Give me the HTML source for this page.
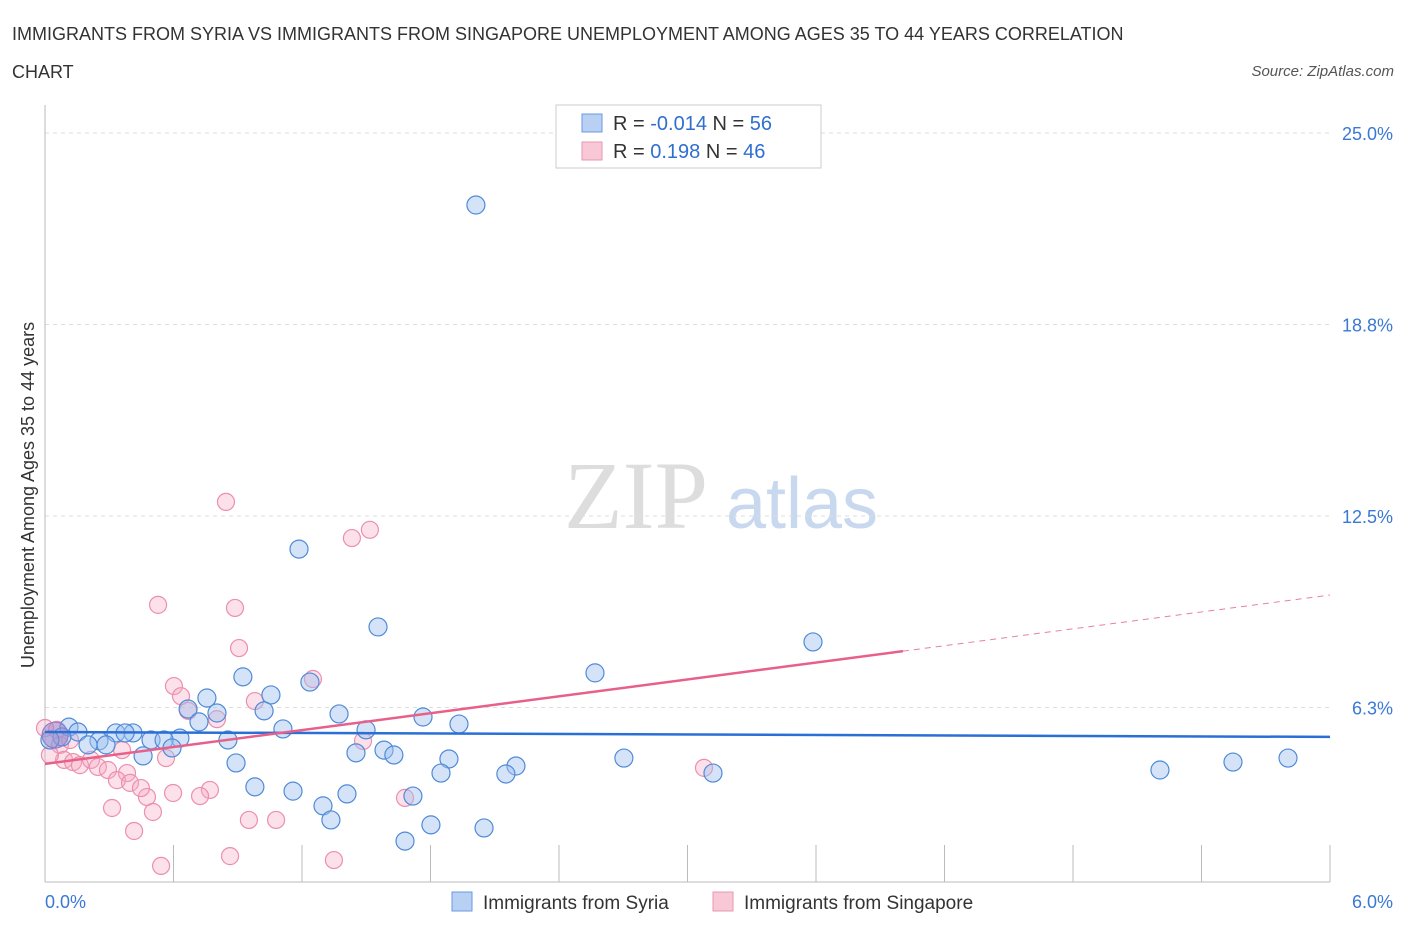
<!DOCTYPE html>
<html><head><meta charset="utf-8"><style>
body{margin:0;background:#fff;font-family:"Liberation Sans",sans-serif;}
</style></head><body>
<svg width="1406" height="930" xmlns="http://www.w3.org/2000/svg" font-family="Liberation Sans, sans-serif" id="chart">
<text x="12" y="40" font-size="18" fill="#333">IMMIGRANTS FROM SYRIA VS IMMIGRANTS FROM SINGAPORE UNEMPLOYMENT AMONG AGES 35 TO 44 YEARS CORRELATION</text>
<text x="12" y="78" font-size="18" fill="#333">CHART</text>
<text x="1394" y="76" font-size="15" fill="#555" font-style="italic" text-anchor="end">Source: ZipAtlas.com</text>
<text x="636" y="528" font-size="96" fill="#ddd" font-family="Liberation Serif, serif" text-anchor="middle">ZIP</text>
<text x="802" y="528" font-size="72" fill="#c8d8ee" text-anchor="middle">atlas</text>
<text transform="translate(34,495) rotate(-90)" font-size="18" fill="#333" text-anchor="middle">Unemployment Among Ages 35 to 44 years</text>
<g id="grid"></g><g id="marks"></g>
<rect x="556" y="105" width="265" height="63" fill="#fff" stroke="#ccc"/>
<rect x="582" y="114" width="20" height="18" fill="#b8d0f4" stroke="#6a9ae0"/>
<rect x="582" y="142" width="20" height="18" fill="#f8c8d6" stroke="#e898b0"/>
<text x="613" y="130" font-size="20" fill="#333">R = <tspan fill="#2f6fd0">-0.014</tspan>   N = <tspan fill="#2f6fd0">56</tspan></text>
<text x="613" y="158" font-size="20" fill="#333">R =   <tspan fill="#2f6fd0">0.198</tspan>   N = <tspan fill="#2f6fd0">46</tspan></text>
<rect x="452" y="892" width="20" height="19" fill="#b8d0f4" stroke="#6a9ae0"/>
<text x="483" y="909" font-size="19" fill="#333">Immigrants from Syria</text>
<rect x="713" y="892" width="20" height="19" fill="#f8c8d6" stroke="#e898b0"/>
<text x="744" y="909" font-size="19" fill="#333">Immigrants from Singapore</text>
</svg>
<script>
const yTicks=[25,18.75,12.5,6.25];
const yTickLabels=["25.0%","18.8%","12.5%","6.3%"];
const xTickLabels=["0.0%","6.0%"];
const syriaX=[2.012,1.186,1.555,3.586,2.568,0.924,1.237,0.756,1.055,0.668,0.803,1.023,1.373,1.765,1.933,0.719,1.111,1.499,0.112,0.154,0.331,0.411,0.374,0.079,0.252,0.285,0.495,0.630,0.556,0.854,0.593,0.458,1.452,1.583,1.629,1.886,0.892,2.703,2.199,1.849,2.152,3.119,5.206,5.547,5.804,0.980,1.158,1.410,1.718,1.298,1.335,1.802,2.050,1.681,0.201,0.023];
const syriaY=[22.65,11.42,8.88,8.39,7.38,7.25,7.08,6.56,6.66,6.20,6.07,6.14,6.04,5.94,5.71,5.78,5.55,5.52,5.61,5.45,5.42,5.42,5.42,5.29,5.16,5.03,5.19,5.25,5.19,5.19,4.93,4.67,4.77,4.86,4.70,4.57,4.44,4.60,4.34,4.11,4.08,4.11,4.21,4.47,4.60,3.66,3.52,3.43,3.36,3.04,2.58,2.42,2.32,1.89,5.03,5.19];
const singX=[0.845,1.517,1.433,0.528,0.887,0.906,0.602,0.635,1.251,0.980,0.668,0.803,1.485,0.056,0,0.070,0.089,0.131,0.163,0.215,0.247,0.294,0.360,0.383,0.336,0.397,0.476,0.448,0.504,0.565,0.770,0.598,0.724,0.313,0.416,0.952,1.079,1.681,3.077,0.542,0.864,1.349,0.023,0.117];
const singY=[12.96,12.05,11.78,9.60,9.50,8.19,6.95,6.62,7.18,6.46,6.14,5.87,5.16,5.52,5.58,5.03,4.54,4.47,4.37,4.54,4.31,4.21,4.86,4.11,3.88,3.79,3.33,3.62,2.84,4.60,3.56,3.46,3.36,2.97,2.22,2.58,2.58,3.30,4.28,1.08,1.40,1.27,4.70,5.19];
const syriaTrend=[5.45,5.29];
const singTrend=[4.41,9.92];
const singSolidEnd=4.006;
const X=v=>45+v/6*1285, Y=v=>899-v*30.64;
const NS="http://www.w3.org/2000/svg";
const grid=document.getElementById('grid'), marks=document.getElementById('marks');
function mk(tag,attrs,parent){const e=document.createElementNS(NS,tag);for(const k in attrs)e.setAttribute(k,attrs[k]);parent.appendChild(e);return e;}
yTicks.forEach((t,i)=>{
 const l=mk('line',{x1:45,x2:1330,y1:Y(t),y2:Y(t),stroke:'#ddd','stroke-dasharray':'4,4'},grid);
 
 
 const tx=mk('text',{x:1393,y:Y(t)+7,'font-size':18,fill:'#3a78d4','text-anchor':'end'},grid);tx.textContent=yTickLabels[i];
 
 
});
const ax=mk('line',{x1:45,x2:1330,y1:882,y2:882,stroke:'#bbb'},grid);


const ay=mk('line',{x1:45,x2:45,y1:105,y2:882,stroke:'#bbb'},grid);


for(let i=1;i<=10;i++){const xx=45+i*1285/10;const t=mk('line',{x1:xx,x2:xx,y1:845,y2:882,stroke:'#bbb'},grid);
 
 }
[[0,45,'start'],[6,1393,'end']].forEach(([v,xx,a],i)=>{const t=mk('text',{x:xx,y:908,'font-size':18,fill:'#3a78d4','text-anchor':a},grid);t.textContent=xTickLabels[i];
 
 });
singX.forEach((x,i)=>{const c=mk('circle',{cx:X(x),cy:Y(singY[i]),r:8.5,fill:'rgba(245,170,195,0.35)',stroke:'#ec8fae','stroke-width':1.2},marks);
 
 });
syriaX.forEach((x,i)=>{const c=mk('circle',{cx:X(x),cy:Y(syriaY[i]),r:9,fill:'rgba(160,192,240,0.45)',stroke:'#4f8ad8','stroke-width':1.2},marks);
 
 });
const big=mk('circle',{cx:X(0.047),cy:Y(5.35),r:13,fill:'rgba(150,130,200,0.5)',stroke:'#8a7ac8'},marks);


const sy=s=>singTrend[0]+(singTrend[1]-singTrend[0])*s/6;
const t1=mk('line',{x1:X(0),y1:Y(syriaTrend[0]),x2:X(6),y2:Y(syriaTrend[1]),stroke:'#2a6fd6','stroke-width':2.5},marks);


const t2=mk('line',{x1:X(0),y1:Y(sy(0)),x2:X(singSolidEnd),y2:Y(sy(singSolidEnd)),stroke:'#e8608a','stroke-width':2.5},marks);


const t3=mk('line',{x1:X(singSolidEnd),y1:Y(sy(singSolidEnd)),x2:X(6),y2:Y(sy(6)),stroke:'#e8809f','stroke-width':1,'stroke-dasharray':'6,5'},marks);


</script>
</body></html>
